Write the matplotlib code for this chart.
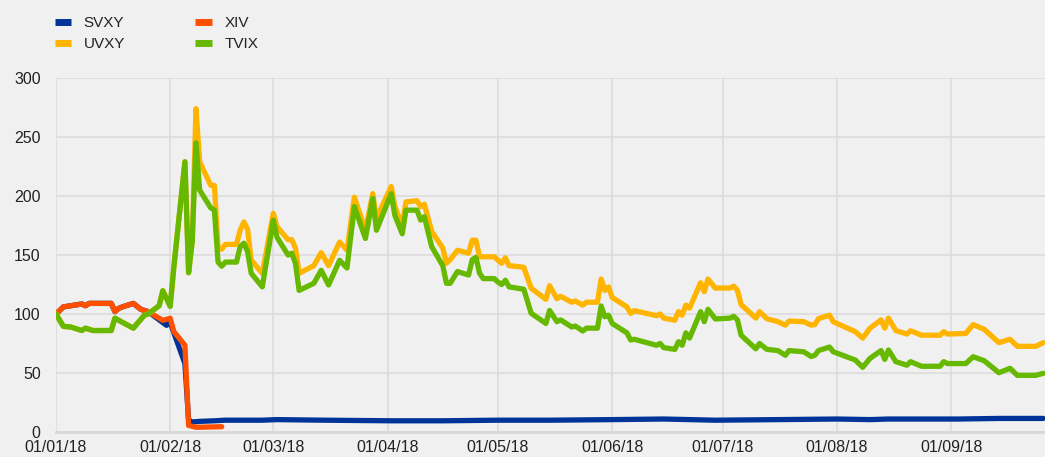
import matplotlib
matplotlib.use("Agg")
import matplotlib.pyplot as plt
import matplotlib.dates as mdates
import pandas as pd

plt.rcParams["font.family"] = ["Liberation Sans", "DejaVu Sans"]

# UVXY / TVIX share the same days
vol_dates = [
    "2018-01-01", "2018-01-03", "2018-01-05", "2018-01-08", "2018-01-09", "2018-01-11",
    "2018-01-16", "2018-01-17", "2018-01-19", "2018-01-22", "2018-01-25", "2018-01-26",
    "2018-01-29", "2018-01-30", "2018-02-01", "2018-02-02", "2018-02-05", "2018-02-06",
    "2018-02-07", "2018-02-08", "2018-02-09", "2018-02-12", "2018-02-13", "2018-02-14",
    "2018-02-15", "2018-02-16", "2018-02-19", "2018-02-20", "2018-02-21", "2018-02-22",
    "2018-02-23", "2018-02-26", "2018-03-01", "2018-03-02", "2018-03-05", "2018-03-06",
    "2018-03-07", "2018-03-08", "2018-03-12", "2018-03-14", "2018-03-16", "2018-03-19",
    "2018-03-21", "2018-03-23", "2018-03-26", "2018-03-28", "2018-03-29", "2018-04-02",
    "2018-04-03", "2018-04-05", "2018-04-06", "2018-04-09", "2018-04-10", "2018-04-11",
    "2018-04-13", "2018-04-16", "2018-04-17", "2018-04-18", "2018-04-20", "2018-04-23",
    "2018-04-24", "2018-04-25", "2018-04-26", "2018-04-27", "2018-04-30", "2018-05-01",
    "2018-05-02", "2018-05-03", "2018-05-04", "2018-05-08", "2018-05-10", "2018-05-14",
    "2018-05-15", "2018-05-17", "2018-05-18", "2018-05-21", "2018-05-22", "2018-05-24",
    "2018-05-25", "2018-05-28", "2018-05-29", "2018-05-30", "2018-05-31", "2018-06-01",
    "2018-06-05", "2018-06-06", "2018-06-07", "2018-06-13", "2018-06-14", "2018-06-15",
    "2018-06-18", "2018-06-19", "2018-06-20", "2018-06-21", "2018-06-22", "2018-06-25",
    "2018-06-26", "2018-06-27", "2018-06-29", "2018-07-03", "2018-07-04", "2018-07-05",
    "2018-07-06", "2018-07-10", "2018-07-11", "2018-07-13", "2018-07-16", "2018-07-18",
    "2018-07-19", "2018-07-23", "2018-07-25", "2018-07-26", "2018-07-27", "2018-07-30",
    "2018-07-31", "2018-08-06", "2018-08-08", "2018-08-10", "2018-08-13", "2018-08-14",
    "2018-08-15", "2018-08-17", "2018-08-20", "2018-08-21", "2018-08-24", "2018-08-29",
    "2018-08-30", "2018-08-31", "2018-09-05", "2018-09-07", "2018-09-10", "2018-09-14",
    "2018-09-17", "2018-09-19", "2018-09-24", "2018-09-26",
]
uvxy = [
    100, 89.5, 89, 86, 88, 86,
    86, 96.5, 93, 88, 99, 100,
    107, 119.7, 106.5, 140, 229, 135,
    162.5, 274, 229, 209, 209, 156,
    155, 159, 159, 171, 178, 172,
    145.6, 134.5, 185.3, 174, 163, 163,
    156, 134.5, 141, 152, 141, 161,
    154, 199, 171, 202, 181, 208,
    191, 175, 195, 196, 191, 193,
    170, 156, 143, 146, 154, 151.5,
    162.5, 162.5, 148.5, 148.5, 148.5, 145.6,
    143, 147.6, 141, 139.6, 121.8, 112.5,
    124, 113, 115, 110, 111, 107.5,
    110, 110, 129.6, 120, 123, 114,
    106, 100.5, 102.8, 98.6, 100, 96.5,
    94.7, 102, 99, 107.5, 105, 126.5,
    119, 129.6, 122, 122, 123.6, 120,
    108, 96.5, 102, 96, 93.5, 90.6,
    94, 93.5, 90.6, 91, 96, 99,
    93.5, 85, 79.6, 88, 95, 88,
    96.5, 86, 83, 85.8, 82, 82,
    85, 83, 83.5, 91, 87, 75.7,
    78.6, 72.6, 72.6, 75.7,
]
tvix = [
    100, 89.5, 89, 86, 88, 86,
    86, 96.5, 93, 88, 99, 100,
    107, 119.7, 106.5, 140, 229, 135,
    162.5, 245, 205, 190, 188, 144,
    140.5, 144, 144, 157, 160, 153,
    134.5, 123, 179.4, 165, 150, 151.5,
    143, 120, 126, 137, 124.6, 145.5,
    139, 191, 164, 198, 171, 202,
    183.6, 168, 188, 188, 179.6, 182.5,
    157, 141, 126, 126, 136, 133,
    146, 148, 134.5, 130, 130, 127,
    125, 128.6, 123, 121, 100.6, 92,
    103, 93.5, 95, 89, 89.8, 85.6,
    88, 88, 106.8, 97.7, 99, 92,
    84, 78, 78.6, 73.5, 75, 71.5,
    70, 76.5, 73.5, 84, 79.6, 102,
    93.5, 104, 95.8, 96.5, 98, 95,
    82, 70.5, 75, 70, 69, 65,
    69, 68, 64, 65, 69, 72,
    68, 61, 54.8, 62.4, 69, 61.5,
    69.5, 59.6, 56.6, 59.6, 55.7, 55.7,
    59.6, 58, 58, 63.8, 60.4, 50.2,
    54, 48, 48, 49.7,
]

svxy_dates = [
    "2018-01-01", "2018-01-03", "2018-01-08", "2018-01-09", "2018-01-10", "2018-01-16",
    "2018-01-17", "2018-01-18", "2018-01-19", "2018-01-22", "2018-01-24", "2018-01-26",
    "2018-01-31", "2018-02-01", "2018-02-02", "2018-02-05", "2018-02-06", "2018-02-07",
    "2018-02-09", "2018-02-13", "2018-02-16", "2018-02-26", "2018-03-02", "2018-03-15",
    "2018-04-02", "2018-04-16", "2018-05-01", "2018-05-15", "2018-06-01", "2018-06-15",
    "2018-06-29", "2018-07-16", "2018-08-01", "2018-08-10", "2018-08-15", "2018-09-03",
    "2018-09-14", "2018-09-26",
]
svxy = [
    100, 106, 108.5, 107, 109, 109,
    102, 104.7, 106, 109, 104, 102,
    90.4, 93, 84, 58, 10, 8.5,
    9, 9.5, 10, 10, 10.5, 10,
    9.5, 9.5, 10, 10, 10.5, 11,
    10, 10.5, 11, 10.5, 11, 11,
    11.5, 11.5,
]

xiv_dates = [
    "2018-01-01", "2018-01-03", "2018-01-08", "2018-01-09", "2018-01-10", "2018-01-16",
    "2018-01-17", "2018-01-18", "2018-01-19", "2018-01-22", "2018-01-24", "2018-01-26",
    "2018-01-30", "2018-02-01", "2018-02-02", "2018-02-05", "2018-02-06", "2018-02-08",
    "2018-02-15",
]
xiv = [
    100, 106, 108.5, 107, 109, 109,
    102, 104.7, 106, 109, 104, 102,
    94.6, 96.4, 85, 73.5, 5.6, 4,
    4.5,
]

series = [
    ("SVXY", svxy_dates, svxy, "#003399"),
    ("XIV", xiv_dates, xiv, "#ff5000"),
    ("UVXY", vol_dates, uvxy, "#ffb400"),
    ("TVIX", vol_dates, tvix, "#66b800"),
]

bg = "#f0f0f0"
fig = plt.figure(figsize=(10.45, 4.57), dpi=100, facecolor=bg)
ax = fig.add_axes([56 / 1045, 25 / 457, 989 / 1045, 354 / 457], facecolor=bg)

lines = {}
for name, d, v, c in series:
    (ln,) = ax.plot(pd.to_datetime(d), v, color=c, lw=3.8, label=name,
                    solid_joinstyle="round", solid_capstyle="round")
    lines[name] = ln

ax.set_xlim(pd.Timestamp("2018-01-01"), pd.Timestamp("2018-09-26 12:00"))
ax.set_ylim(0, 300)
ax.set_yticks(range(0, 301, 50))
ax.xaxis.set_major_locator(mdates.MonthLocator())
ax.xaxis.set_major_formatter(mdates.DateFormatter("%d/%m/%y"))

ax.grid(True, color="#dadada", lw=1.1)
ax.set_axisbelow(True)
for s in ["top", "right", "left"]:
    ax.spines[s].set_visible(False)
ax.spines["bottom"].set_color("#d8d8d8")
ax.spines["bottom"].set_linewidth(2)
ax.tick_params(length=0, labelsize=11.5, colors="#222222")
ax.tick_params(axis="y", pad=11)
ax.tick_params(axis="x", pad=6)

handles = [lines["SVXY"], lines["UVXY"], lines["XIV"], lines["TVIX"]]
leg = fig.legend(handles=handles, labels=[h.get_label() for h in handles],
                 ncol=2, loc="upper left", bbox_to_anchor=(0.039, 0.995),
                 frameon=False, fontsize=11, handlelength=1.1, handletextpad=0.8,
                 columnspacing=4.6, labelspacing=0.45, labelcolor="#222222")
for h in leg.legend_handles:
    h.set_linewidth(5)
    h.set_solid_capstyle("butt")

fig.savefig("out.png", dpi=100, facecolor=bg)
